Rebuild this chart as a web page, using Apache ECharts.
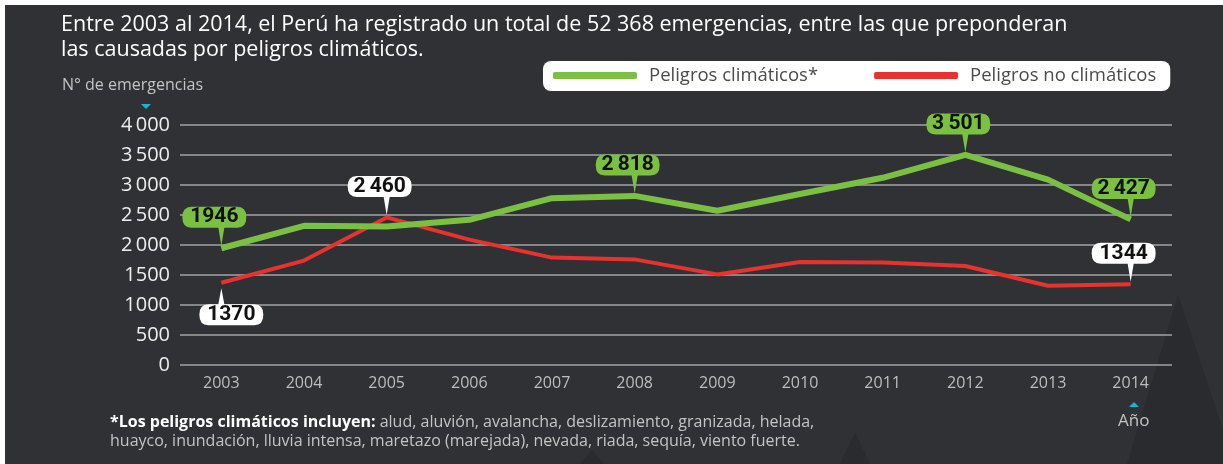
<!DOCTYPE html>
<html>
<head>
<meta charset="utf-8">
<script src="https://cdn.jsdelivr.net/npm/echarts@6/dist/echarts.min.js"></script>
<style>
	html, body { margin: 0; padding: 0; background: #fff; }
	#container { width: 1223px; height: 464px; }
</style>
</head>
<body>
<div id="container"></div>
<script type="text/javascript">
	// datos
	var years = ['2003', '2004', '2005', '2006', '2007', '2008', '2009', '2010', '2011', '2012', '2013', '2014'];
	var climaticos = [1946, 2320, 2310, 2420, 2780, 2818, 2570, 2850, 3120, 3501, 3090, 2427];
	var noClimaticos = [1370, 1740, 2460, 2090, 1790, 1760, 1510, 1715, 1710, 1650, 1320, 1344];
	var yTicks = [0, 500, 1000, 1500, 2000, 2500, 3000, 3500, 4000];
	// puntos con globo de valor (índices)
	var verdeDestacados = [0, 5, 9, 11];
	var rojoDestacados = [2, 11];
	var rojoAbajo = [0];

	var VERDE = '#7ac143';
	var ROJO = '#e8322e';
	var FONT = "'Open Sans', sans-serif";

	function fmt(v) {
		var s = String(v);
		if (s.length < 4) return s;
		return s.charAt(0) === '1' ? s : s.charAt(0) + '\u2009' + s.slice(1);
	}

	// globo con cola hacia abajo: caja 64x21, punta en x=39, y=39
	var globoAbajo = 'path://M9,0 L55,0 Q64,0 64,10.5 Q64,21 55,21 L42,21 L39,39 L36,21 L9,21 Q0,21 0,10.5 Q0,0 9,0 Z';
	// globo con cola hacia arriba: punta en x=22, y=0
	var globoArriba = 'path://M22,0 L25,16 L55,16 Q64,16 64,26.5 Q64,37 55,37 L9,37 Q0,37 0,26.5 Q0,16 9,16 L19,16 Z';

	function puntoAbajo(i, serie, color) {
		return {
			coord: [years[i], serie[i]],
			value: serie[i],
			symbol: globoAbajo,
			symbolSize: [64, 39],
			symbolOffset: [-7, -22],
			itemStyle: { color: color },
			label: { offset: [0, -9] }
		};
	}
	function puntoArriba(i, serie, color) {
		return {
			coord: [years[i], serie[i]],
			value: serie[i],
			symbol: globoArriba,
			symbolSize: [64, 37],
			symbolOffset: [10, 24],
			itemStyle: { color: color },
			label: { offset: [0, 8] }
		};
	}

	var dom = document.getElementById('container');
	var myChart = echarts.init(dom);

	var etiquetaGlobo = {
		show: true,
		position: 'inside',
		color: '#111',
		fontWeight: 'bold',
		fontSize: 21,
		fontFamily: "Roboto, sans-serif",
		formatter: function (p) { return fmt(p.value); }
	};

	var option = {
		backgroundColor: '#ffffff',
		animation: false,
		textStyle: { fontFamily: FONT },
		graphic: [
			{ type: 'rect', z: -10, shape: { x: 5, y: 5, width: 1218, height: 459 }, style: { fill: '#2f3134' } },
			{ type: 'polygon', z: -9, shape: { points: [[1127, 464], [1178, 295], [1223, 430], [1223, 464]] }, style: { fill: '#292b2e' } },
			{ type: 'polygon', z: -9, shape: { points: [[840, 464], [855, 433], [870, 464]] }, style: { fill: '#292b2e' } },
			{ type: 'polygon', z: -9, shape: { points: [[580, 464], [592, 450], [604, 464]] }, style: { fill: '#292b2e' } },
			{ type: 'text', left: 61, top: 12, style: { text: 'Entre 2003 al 2014, el Perú ha registrado un total de 52 368 emergencias, entre las que preponderan\nlas causadas por peligros climáticos.', fill: '#ffffff', fontSize: 21.5, lineHeight: 25, fontFamily: FONT } },
			{ type: 'text', left: 62, top: 77, style: { text: 'N° de emergencias', fill: '#c4c4c4', fontSize: 16, fontFamily: FONT } },
			{ type: 'polygon', shape: { points: [[141, 104], [151, 104], [146, 109]] }, style: { fill: '#19b5d0' } },
			{ type: 'polygon', shape: { points: [[1129, 407], [1139, 407], [1134, 402]] }, style: { fill: '#19b5d0' } },
			{ type: 'text', left: 1118, top: 413, style: { text: 'Año', fill: '#c4c4c4', fontSize: 17, fontFamily: FONT } },
			{ type: 'text', left: 110, top: 413, style: {
				text: '{b|*Los peligros climáticos incluyen:} alud, aluvión, avalancha, deslizamiento, granizada, helada,\nhuayco, inundación, lluvia intensa, maretazo (marejada), nevada, riada, sequía, viento fuerte.',
				fill: '#c4c4c4', fontSize: 16, lineHeight: 19, fontFamily: FONT,
				rich: { b: { fill: '#ffffff', fontWeight: 'bold', fontSize: 16, fontFamily: FONT } }
			} }
		],
		legend: {
			left: 543,
			top: 61,
			width: 660,
			backgroundColor: '#ffffff',
			borderRadius: 8,
			padding: [5, 14, 6, 10],
			itemWidth: 84,
			itemHeight: 7,
			itemGap: 56,
			icon: 'roundRect',
			textStyle: { color: '#4a4a4a', fontSize: 18.5, fontFamily: FONT, padding: [0, 0, 0, 7] },
			data: ['Peligros climáticos*', 'Peligros no climáticos']
		},
		grid: { left: 180, right: 51, top: 125, bottom: 99 },
		xAxis: {
			type: 'category',
			data: years,
			boundaryGap: true,
			axisLine: { show: false },
			axisTick: { show: false },
			axisLabel: { color: '#bdbdbd', fontSize: 16, margin: 10, fontFamily: FONT }
		},
		yAxis: {
			type: 'value',
			min: yTicks[0],
			max: yTicks[yTicks.length - 1],
			interval: yTicks[1] - yTicks[0],
			axisLine: { show: false },
			axisTick: { show: false },
			axisLabel: { color: '#eeeeee', fontSize: 20, margin: 10, fontFamily: FONT, formatter: fmt },
			splitLine: { lineStyle: { color: '#a3a3a3', width: 1.5 } }
		},
		series: [{
			name: 'Peligros no climáticos',
			type: 'line',
			data: noClimaticos,
			symbol: 'none',
			color: ROJO,
			lineStyle: { color: ROJO, width: 4 },
			z: 3,
			markPoint: {
				label: etiquetaGlobo,
				itemStyle: { color: '#fff' },
				data: rojoDestacados.map(function (i) { return puntoAbajo(i, noClimaticos, '#ffffff'); })
					.concat(rojoAbajo.map(function (i) { return puntoArriba(i, noClimaticos, '#ffffff'); }))
			}
		}, {
			name: 'Peligros climáticos*',
			type: 'line',
			data: climaticos,
			symbol: 'none',
			color: VERDE,
			lineStyle: { color: VERDE, width: 6 },
			z: 4,
			markPoint: {
				label: etiquetaGlobo,
				data: verdeDestacados.map(function (i) { return puntoAbajo(i, climaticos, VERDE); })
			}
		}]
	};

	if (option && typeof option === 'object') {
		myChart.setOption(option, true);
	}
</script>
</body>
</html>
